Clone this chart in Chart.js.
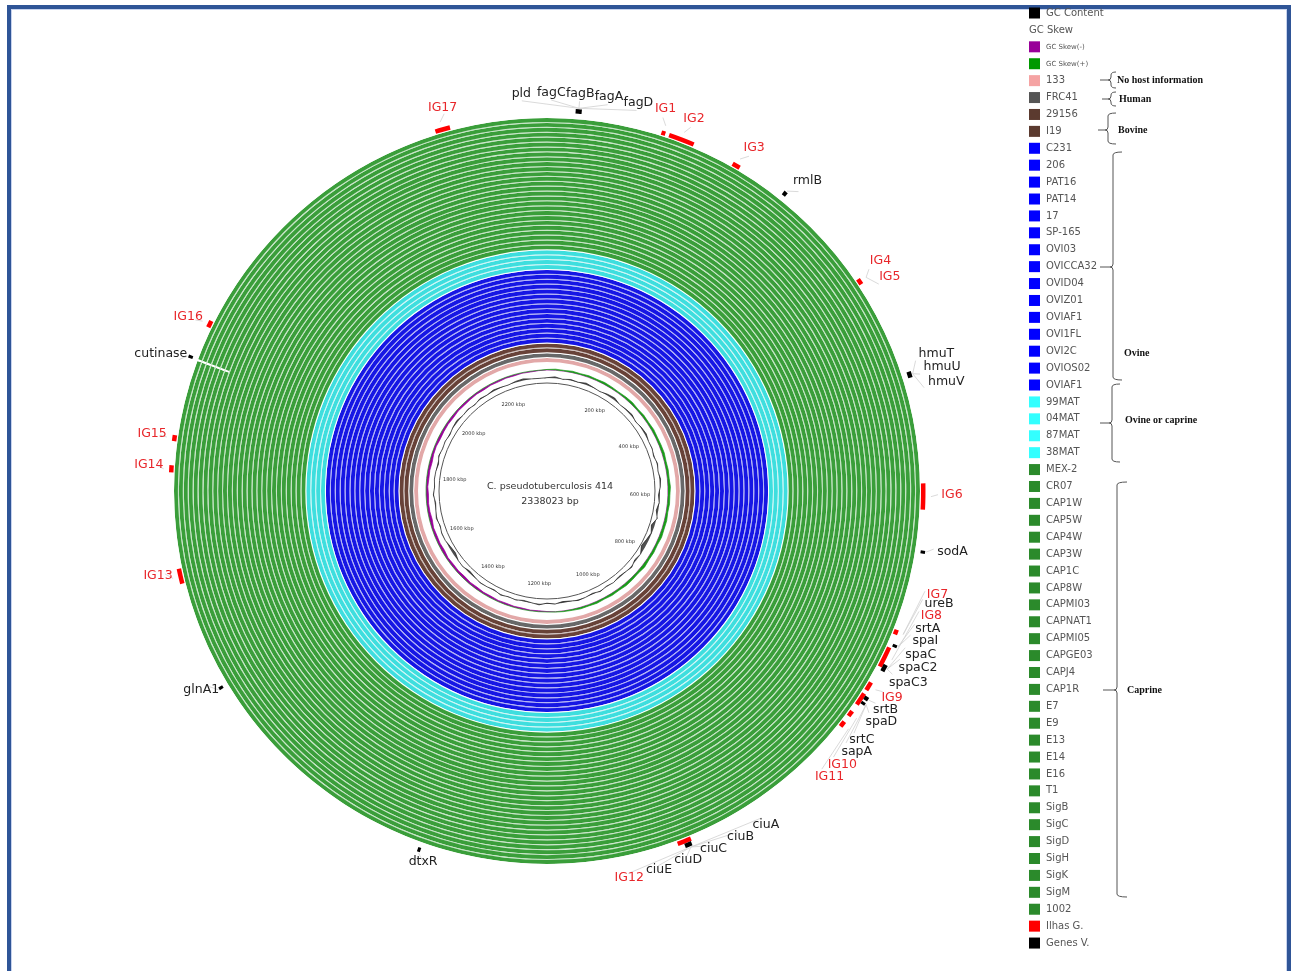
<!DOCTYPE html>
<html>
<head>
<meta charset="utf-8">
<script src="https://cdn.jsdelivr.net/npm/chart.js@4.4.1/dist/chart.umd.min.js"></script>
<style>
    html, body { margin: 0; padding: 0; background: #fff; }
    #wrap { position: relative; width: 1296px; height: 971px; overflow: hidden; }
    #frame { position: absolute; left: 7px; top: 5px; width: 1276px; height: 1000px;
             border: 4px solid #2f5597; border-bottom: none;
             box-shadow: inset 1px 1px 0 #c7d3ee, inset -1px 0 0 #c7d3ee; }
    #rings { position: absolute; left: 0; top: 0; }
    #gc { position: absolute; }
</style>
</head>
<body>
<div id="wrap">
    <div id="frame"></div>
    <canvas id="rings" width="1296" height="971"></canvas>
    <canvas id="gc" width="260" height="260"></canvas>
</div>
<script>
    "use strict";
    // ---------------- data ----------------
    var GENOME_KB = 2338.023;
    var genomeTitle = 'C. pseudotuberculosis 414';
    var genomeSize = '2338023 bp';
    var tickKb = [200, 400, 600, 800, 1000, 1200, 1400, 1600, 1800, 2000, 2200];

    // strains, legend order (innermost ring first)
    var noHostStrains = ['133'];
    var humanStrains = ['FRC41'];
    var bovineStrains = ['29156', 'I19'];
    var ovineStrains = ['C231', '206', 'PAT16', 'PAT14', '17', 'SP-165', 'OVI03', 'OVICCA32',
        'OVID04', 'OVIZ01', 'OVIAF1', 'OVI1FL', 'OVI2C', 'OVIOS02', 'OVIAF1'];
    var ovineCaprineStrains = ['99MAT', '04MAT', '87MAT', '38MAT'];
    var caprineStrains = ['MEX-2', 'CR07', 'CAP1W', 'CAP5W', 'CAP4W', 'CAP3W', 'CAP1C', 'CAP8W',
        'CAPMI03', 'CAPNAT1', 'CAPMI05', 'CAPGE03', 'CAPJ4', 'CAP1R', 'E7', 'E9', 'E13', 'E14',
        'E16', 'T1', 'SigB', 'SigC', 'SigD', 'SigH', 'SigK', 'SigM', '1002'];

    // genomic islands (Ilhas G.), kbp start / end
    var ilhasG = [[115, 119], [123, 149], [192, 200], [362, 368], [577, 603], [725, 730],
        [744, 765], [783, 792], [796, 809], [817, 823], [830, 836], [1023, 1037],
        [1661, 1676], [1772, 1779], [1803, 1809], [1921, 1928], [2226, 2241]];
    // virulence genes (Genes V.), kbp start / end
    var genesV = [[28, 34], [249, 253], [466, 472], [643, 646], [739, 742], [761, 768],
        [797, 801], [803, 806], [1024, 1031], [1295, 1298], [1550, 1553], [1886, 1889]];

    // region missing around cutinase in the outer caprine rings
    var cutinaseGapKb = [1886, 1888];
    var cutinaseGapStrains = ['1002', 'SigM', 'SigK', 'SigH', 'SigD', 'SigC', 'SigB'];

    // GC content (%) and GC skew, one value per 1/90 of the genome, from the origin clockwise
    var gcContent = [
        53.1, 54.2, 52.6, 53.8, 52.9, 54.5, 53.3, 52.4, 53.9, 54.8,
        52.7, 53.5, 54.1, 52.2, 53.6, 54.3, 52.8, 53.2, 51.9, 53.7,
        52.5, 54.0, 53.1, 51.4, 52.6, 50.8, 53.4, 49.6, 52.2, 50.5,
        48.9, 52.7, 51.3, 53.8, 52.4, 51.6, 53.0, 52.1, 53.5, 51.8,
        52.9, 53.6, 52.3, 51.5, 53.2, 52.0, 53.9, 52.6, 51.7, 53.1,
        52.4, 53.7, 51.9, 52.8, 53.4, 52.2, 51.1, 53.0, 52.5, 50.3,
        51.2, 52.9, 53.3, 52.1, 53.8, 52.6, 51.8, 53.5, 52.3, 53.0,
        52.7, 51.6, 53.6, 52.4, 53.1, 52.0, 53.4, 54.2, 52.8, 53.5,
        52.2, 53.9, 52.9, 54.1, 53.3, 52.6, 53.8, 54.4, 53.0, 52.7
    ];
    var gcSkew = [
        0.012, 0.025, 0.018, 0.031, 0.022, 0.036, 0.028, 0.041, 0.033, 0.026,
        0.038, 0.045, 0.030, 0.042, 0.035, 0.048, 0.039, 0.044, 0.051, 0.037,
        0.046, 0.040, 0.055, 0.043, 0.049, 0.036, 0.052, 0.047, 0.058, 0.041,
        0.050, 0.044, 0.062, 0.039, 0.048, 0.053, 0.037, 0.045, 0.031, 0.042,
        0.028, 0.035, 0.022, 0.017, 0.008, -0.010, -0.021, -0.016, -0.029, -0.024,
        -0.035, -0.027, -0.041, -0.033, -0.046, -0.038, -0.052, -0.040, -0.048, -0.036,
        -0.057, -0.044, -0.050, -0.039, -0.061, -0.047, -0.043, -0.054, -0.038, -0.049,
        -0.045, -0.058, -0.041, -0.036, -0.051, -0.044, -0.039, -0.047, -0.033, -0.042,
        -0.037, -0.029, -0.040, -0.026, -0.034, -0.021, -0.028, -0.015, -0.019, -0.008
    ];

    // gene / island labels: text, feature position (kbp), label position (kbp)
    var geneLabels = [
        ['pld', 31, 2314], ['fagC', 31, 4], ['fagB', 31, 31], ['fagA', 31, 58], ['fagD', 31, 86],
        ['rmlB', 251, 260], ['hmuT', 469, 458], ['hmuU', 469, 471.5], ['hmuV', 469, 485],
        ['sodA', 644, 640], ['ureB', 727, 689], ['srtA', 740, 714], ['spaI', 740, 725],
        ['spaC', 764, 738], ['spaC2', 764, 750], ['spaC3', 764, 766], ['srtB', 799, 798],
        ['spaD', 804, 809], ['srtC', 804, 833], ['sapA', 804, 845], ['ciuA', 1026, 953],
        ['ciuB', 1026, 979], ['ciuC', 1026, 1007], ['ciuD', 1026, 1033], ['ciuE', 1026, 1062],
        ['dtxR', 1296, 1289], ['glnA1', 1551, 1559], ['cutinase', 1887, 1881]
    ];
    var islandLabels = [
        ['IG1', 117, 112], ['IG2', 136, 140], ['IG3', 196, 202], ['IG4', 365, 360],
        ['IG5', 365, 377], ['IG6', 590, 588], ['IG7', 727, 681], ['IG8', 754, 701],
        ['IG9', 787, 785], ['IG10', 820, 863], ['IG11', 833, 879], ['IG12', 1030, 1091],
        ['IG13', 1668, 1674], ['IG14', 1775, 1778], ['IG15', 1806, 1807], ['IG16', 1924, 1922],
        ['IG17', 2233, 2239]
    ];

    // ---------------- layout / style ----------------
    var CX = 547, CY = 491;      // circle centre
    var R_OUT = 383, R_IN = 128; // outer edge of annotation rings, inner edge of strain rings
    var RING_W = 3.9, GAP_W = 1, MARK_W = 4.5;
    var GC_BOX = 130;
    var GC_BASE = 52.8, GC_R0 = 113, GC_GAIN = 1.0;   // % -> px
    var SKEW_R0 = 121, SKEW_GAIN = 45;                 // skew -> px
    var BACKBONE_R = 108, TICK_LABEL_R = 93;
    var geneLabelR = [398, 398, 399, 399, 399, 405, 413, 414, 414, 410, 408, 405, 407, 408, 411,
        409, 403, 406, 401, 405, 399, 396, 395, 395, 395, 391, 399, 410];
    var islandLabelR = [400, 400, 401, 405, 404, 405, 404, 404, 402, 403, 402, 395, 398, 399, 399, 399, 397];

    var ringColors = {
        noHost: 'rgb(226,168,168)', human: 'rgb(104,104,104)', bovine: 'rgb(104,66,56)',
        ovine: 'rgb(22,22,228)', ovineCaprine: 'rgb(62,222,222)', caprine: 'rgb(58,158,58)'
    };
    // light line left between two rings (blurred white gap)
    var gapColors = {
        noHost: 'rgb(246,222,222)', human: 'rgb(200,200,200)', bovine: 'rgb(205,190,186)',
        ovine: 'rgb(175,175,245)', ovineCaprine: 'rgb(205,246,246)', caprine: 'rgb(196,228,196)'
    };
    var boxColors = {
        noHost: '#f5a3a3', human: '#555555', bovine: '#5b3a2f',
        ovine: '#0000ff', ovineCaprine: '#33ffff', caprine: '#2b8a2b'
    };
    var LEG_X = 1029, LEG_Y0 = 13, LEG_STEP = 16.91;
    var brackets = [
        {text: 'No host information', top: 72, bottom: 88, tickY: 80, x: 1111, tickX0: 1100, hook: 5, textX: 1117, textY: 80},
        {text: 'Human', top: 92, bottom: 106, tickY: 99, x: 1111, tickX0: 1102, hook: 5, textX: 1119, textY: 99},
        {text: 'Bovine', top: 113, bottom: 144, tickY: 130, x: 1108, tickX0: 1098, hook: 8, textX: 1118, textY: 130},
        {text: 'Ovine', top: 152, bottom: 380, tickY: 267, x: 1113, tickX0: 1100, hook: 9, textX: 1124, textY: 353},
        {text: 'Ovine or caprine', top: 384, bottom: 462, tickY: 423, x: 1112, tickX0: 1100, hook: 8, textX: 1125, textY: 420},
        {text: 'Caprine', top: 482, bottom: 897, tickY: 690, x: 1117, tickX0: 1103, hook: 10, textX: 1127, textY: 690}
    ];

    // ---------------- helpers ----------------
    var TRANSPARENT = 'rgba(0,0,0,0)';
    function kbToRad(kb) { return kb / GENOME_KB * 2 * Math.PI; }
    function polar(cx, cy, kb, r) {
        var a = kbToRad(kb);
        return {x: cx + r * Math.sin(a), y: cy - r * Math.cos(a)};
    }
    function segmentRing(label, features, color, weight) {
        var data = [], colors = [], pos = 0;
        features.forEach(function(f) {
            if (f[0] > pos) { data.push(f[0] - pos); colors.push(TRANSPARENT); }
            data.push(f[1] - f[0]);
            colors.push(color);
            pos = f[1];
        });
        if (pos < GENOME_KB) { data.push(GENOME_KB - pos); colors.push(TRANSPARENT); }
        return {label: label, data: data, backgroundColor: colors, weight: weight, borderWidth: 0};
    }
    function spacer(color) {
        return {label: '', data: [GENOME_KB], backgroundColor: [color], weight: GAP_W, borderWidth: 0};
    }

    var strainGroups = [
        ['noHost', noHostStrains], ['human', humanStrains], ['bovine', bovineStrains],
        ['ovine', ovineStrains], ['ovineCaprine', ovineCaprineStrains], ['caprine', caprineStrains]
    ];
    var strainRings = [];   // inner -> outer
    strainGroups.forEach(function(g) {
        g[1].forEach(function(name) { strainRings.push({name: name, group: g[0]}); });
    });

    var ringSets = [segmentRing('Genes V.', genesV, '#000000', MARK_W),
        segmentRing('Ilhas G.', ilhasG, '#ff0000', MARK_W), spacer('#ffffff')];
    var gapDone = {};
    var outerFirst = strainRings.slice().reverse();
    outerFirst.forEach(function(s, i) {
        var col = ringColors[s.group];
        if (cutinaseGapStrains.indexOf(s.name) >= 0 && !gapDone[s.name]) {
            gapDone[s.name] = true;
            ringSets.push({label: s.name, weight: RING_W, borderWidth: 0,
                data: [cutinaseGapKb[0], cutinaseGapKb[1] - cutinaseGapKb[0], GENOME_KB - cutinaseGapKb[1]],
                backgroundColor: [col, '#ffffff', col]});
        } else {
            ringSets.push({label: s.name, data: [GENOME_KB], backgroundColor: [col], weight: RING_W, borderWidth: 0});
        }
        var next = outerFirst[i + 1];
        ringSets.push(spacer(next && next.group === s.group ? gapColors[s.group] : '#ffffff'));
    });

    var legendEntries = [
        {text: 'GC Content', color: '#000000'},
        {text: 'GC Skew', color: null},
        {text: 'GC Skew(-)', color: '#990099', small: true},
        {text: 'GC Skew(+)', color: '#009900', small: true}
    ];
    strainRings.forEach(function(s) { legendEntries.push({text: s.name, color: boxColors[s.group]}); });
    legendEntries.push({text: 'Ilhas G.', color: '#ff0000'});
    legendEntries.push({text: 'Genes V.', color: '#000000'});

    // ---------------- annotation plugin ----------------
    function drawBrace(ctx, b) {
        ctx.beginPath();
        ctx.moveTo(b.x + b.hook, b.top);
        ctx.quadraticCurveTo(b.x, b.top, b.x, b.top + 3);
        ctx.lineTo(b.x, b.tickY - 3);
        ctx.quadraticCurveTo(b.x, b.tickY, b.x - 3, b.tickY);
        ctx.lineTo(b.tickX0, b.tickY);
        ctx.moveTo(b.x - 3, b.tickY);
        ctx.quadraticCurveTo(b.x, b.tickY, b.x, b.tickY + 3);
        ctx.lineTo(b.x, b.bottom - 3);
        ctx.quadraticCurveTo(b.x, b.bottom, b.x + b.hook, b.bottom);
        ctx.stroke();
    }

    var annotations = {
        id: 'annotations',
        afterDraw: function(chart) {
            var ctx = chart.ctx;
            var arc = chart.getDatasetMeta(0).data[0];
            var cx = arc.x, cy = arc.y;
            ctx.save();

            // backbone and ticks
            ctx.strokeStyle = '#555';
            ctx.lineWidth = 1;
            ctx.beginPath();
            ctx.arc(cx, cy, BACKBONE_R, 0, 2 * Math.PI);
            ctx.stroke();
            ctx.fillStyle = '#333';
            ctx.font = '5px "DejaVu Sans"';
            ctx.textAlign = 'center';
            ctx.textBaseline = 'middle';
            tickKb.forEach(function(kb) {
                var p = polar(cx, cy, kb, TICK_LABEL_R);
                ctx.fillText(kb + ' kbp', p.x, p.y);
            });
            ctx.font = '9.5px "DejaVu Sans"';
            ctx.fillText(genomeTitle, cx + 3, cy - 4);
            ctx.fillText(genomeSize, cx + 3, cy + 11);

            // leader lines and labels
            function drawLabels(list, radii, color) {
                ctx.font = '12.5px "DejaVu Sans"';
                list.forEach(function(l, i) {
                    var a = polar(cx, cy, l[1], R_OUT + 1);
                    var b = polar(cx, cy, l[2], R_OUT + 8);
                    ctx.strokeStyle = '#d0d0d0';
                    ctx.lineWidth = 0.8;
                    ctx.beginPath();
                    ctx.moveTo(a.x, a.y);
                    ctx.lineTo(b.x, b.y);
                    ctx.stroke();
                    var t = polar(cx, cy, l[2], radii[i]);
                    ctx.fillStyle = color;
                    ctx.fillText(l[0], t.x, t.y);
                });
            }
            drawLabels(geneLabels, geneLabelR, '#222');
            drawLabels(islandLabels, islandLabelR, '#e8262a');

            // legend
            ctx.textAlign = 'left';
            legendEntries.forEach(function(e, i) {
                var y = LEG_Y0 + i * LEG_STEP;
                if (e.color) {
                    ctx.fillStyle = e.color;
                    ctx.fillRect(LEG_X, y - 5.5, 11, 11);
                }
                ctx.fillStyle = '#555';
                ctx.font = e.small ? '7px "DejaVu Sans"' : '10px "DejaVu Sans"';
                ctx.fillText(e.text, e.color ? LEG_X + 17 : LEG_X, y);
            });
            ctx.strokeStyle = '#555';
            ctx.lineWidth = 1;
            brackets.forEach(function(b) {
                drawBrace(ctx, b);
                ctx.fillStyle = '#111';
                ctx.font = 'bold 10px "Liberation Serif"';
                ctx.fillText(b.text, b.textX, b.textY);
            });
            ctx.restore();
        }
    };

    new Chart(document.getElementById('rings'), {
        type: 'doughnut',
        data: {labels: ringSets[0].data.map(function(v, i) { return i; }), datasets: ringSets},
        options: {
            responsive: false,
            animation: false,
            events: [],
            cutout: R_IN,
            radius: '100%',
            layout: {padding: {left: CX - R_OUT, top: CY - R_OUT, right: 1296 - CX - R_OUT, bottom: 971 - CY - R_OUT}},
            plugins: {legend: {display: false}, tooltip: {enabled: false}}
        },
        plugins: [annotations]
    });

    // ---------------- GC content / skew ----------------
    var gcCanvas = document.getElementById('gc');
    gcCanvas.style.left = (CX - GC_BOX) + 'px';
    gcCanvas.style.top = (CY - GC_BOX) + 'px';
    function radial(min, gain) {
        return {
            type: 'radialLinear', axis: 'r', min: min, max: min + GC_BOX / gain,
            grid: {display: false}, angleLines: {display: false},
            ticks: {display: false}, pointLabels: {display: false}
        };
    }
    new Chart(gcCanvas, {
        type: 'radar',
        data: {
            labels: gcContent.map(function(v, i) { return i; }),
            datasets: [
                {label: 'GC Skew(+)', rAxisID: 'rSkew', data: gcSkew.map(function(v) { return Math.max(v, 0); }),
                    borderColor: '#1a9a1a', backgroundColor: '#1a9a1a', borderWidth: 0.7, pointRadius: 0, fill: {value: 0}},
                {label: 'GC Skew(-)', rAxisID: 'rSkew', data: gcSkew.map(function(v) { return Math.min(v, 0); }),
                    borderColor: '#990099', backgroundColor: '#990099', borderWidth: 0.7, pointRadius: 0, fill: {value: 0}},
                {label: 'GC Content', rAxisID: 'rContent', data: gcContent,
                    borderColor: '#111', backgroundColor: 'rgba(20,20,20,0.75)', borderWidth: 0.7, pointRadius: 0, fill: {value: GC_BASE}}
            ]
        },
        options: {
            responsive: false,
            animation: false,
            events: [],
            plugins: {legend: {display: false}, tooltip: {enabled: false}},
            scales: {
                rContent: radial(GC_BASE - GC_R0 / GC_GAIN, GC_GAIN),
                rSkew: radial(-SKEW_R0 / SKEW_GAIN, SKEW_GAIN)
            }
        }
    });
</script>
</body>
</html>
